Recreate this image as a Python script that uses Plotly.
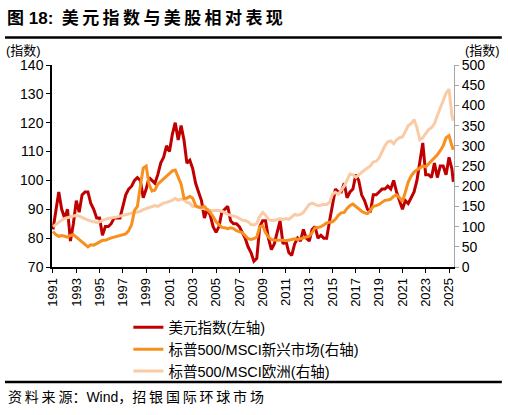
import pandas as pd
import plotly.graph_objects as go

# quarterly points (Jan/Apr/Jul/Oct) from 1991 to Apr 2025, plus the last reading in May 2025
dates = list(pd.date_range("1991-01-01", "2025-04-01", freq="QS")) + [pd.Timestamp("2025-05-15")]

# 美元指数 (left axis)
dxy = [
    83, 90, 96, 90,     87, 90, 79, 85,     93, 89, 95, 96,     96, 92, 90, 87,
    87, 81, 84, 84,     85, 87, 87, 87,     91, 95, 97, 98,     100, 101, 100, 94,
    97, 101, 100, 99,   102, 106, 108, 112, 110, 116, 120, 114, 119, 114, 106, 107,
    104, 99, 96, 93,    87, 90, 88, 84,     82, 84, 89, 90,     91, 86, 85, 85,
    84, 82, 80, 77,     75, 72, 73, 84,     86, 86, 80, 76,     78, 82, 86, 78,
    79, 75, 74, 78,     80, 79, 83, 80,     79, 83, 84, 80,     81, 80, 80, 86,
    92, 97, 96, 96,     99, 94, 96, 97,     102, 100, 95, 93,   90, 89, 95, 95,
    96, 97, 97, 98,     97, 100, 96, 93,    90, 93, 92, 94,     96, 100, 106, 113,
    102, 102, 101, 106, 101, 105, 105, 102, 108, 104, 99.5,
]

# 标普500/MSCI新兴市场 (right axis)
spx_em = [
    88, 80, 76, 78,     76, 74, 78, 80,     74, 68, 62, 54,     50, 55, 54, 58,
    62, 66, 66, 70,     72, 74, 76, 78,     80, 82, 90, 105,    140, 150, 200, 245,
    250, 205, 188, 190, 205, 212, 218, 225, 232, 238, 240, 222, 205, 170, 170, 175,
    170, 152, 148, 148, 150, 142, 135, 125, 112, 105, 98, 97,   95, 97, 95, 90,
    88, 85, 78, 70,     68, 70, 74, 100,    102, 85, 74, 68,    67, 67, 66, 66,
    65, 66, 68, 70,     68, 70, 72, 74,     76, 85, 97, 98,     100, 104, 109, 111,
    112, 118, 128, 134, 135, 145, 152, 156, 150, 142, 138, 134, 132, 140, 150, 152,
    155, 160, 165, 166, 168, 175, 178, 172, 162, 185, 210, 225, 235, 240, 245, 250,
    248, 255, 262, 270, 278, 288, 300, 320, 325, 300, 290,
]

# 标普500/MSCI欧洲 (right axis)
spx_eu = [
    100, 106, 112, 116, 120, 122, 124, 126, 128, 126, 122, 118, 116, 114, 112, 110,
    112, 116, 118, 120, 121, 122, 124, 126, 128, 130, 132, 134, 135, 136, 138, 142,
    145, 148, 150, 152, 150, 155, 158, 160, 162, 165, 170, 165, 168, 166, 160, 158,
    150, 150, 148, 145, 145, 142, 140, 140, 140, 140, 138, 135, 130, 128, 126, 124,
    120, 116, 115, 112, 105, 104, 108, 125, 135, 128, 118, 115, 115, 118, 120, 118,
    120, 118, 125, 130, 128, 130, 135, 145, 155, 158, 155, 152, 153, 155, 155, 160,
    180, 185, 180, 190, 200, 215, 230, 228, 222, 228, 235, 240, 245, 250, 260, 262,
    270, 285, 300, 310, 312, 305, 315, 320, 322, 335, 350, 355, 365, 345, 315, 320,
    330, 340, 345, 355, 375, 395, 410, 430, 440, 375, 362,
]

names = ["美元指数(左轴)", "标普500/MSCI新兴市场(右轴)", "标普500/MSCI欧洲(右轴)"]
colors = ["#C00000", "#F7901E", "#F9CBA7"]

FONT = "Arial, 'Liberation Sans', 'Noto Sans CJK SC', sans-serif"

fig = go.Figure()
fig.add_trace(go.Scatter(x=dates, y=spx_eu, name=names[2], yaxis="y2", mode="lines",
                         line=dict(color=colors[2], width=3), legendrank=3))
fig.add_trace(go.Scatter(x=dates, y=dxy, name=names[0], mode="lines",
                         line=dict(color=colors[0], width=3), legendrank=1))
fig.add_trace(go.Scatter(x=dates, y=spx_em, name=names[1], yaxis="y2", mode="lines",
                         line=dict(color=colors[1], width=3), legendrank=2))

fig.update_layout(
    width=508, height=415,
    margin=dict(l=52, r=54, t=65, b=148),
    paper_bgcolor="white", plot_bgcolor="white",
    font=dict(family=FONT, size=14, color="black"),
    showlegend=True,
    legend=dict(x=0.19, y=-0.22, xanchor="left", yanchor="top",
                font=dict(size=14.5), tracegroupgap=0, itemwidth=30,
                bgcolor="rgba(0,0,0,0)"),
    xaxis=dict(type="date", range=["1990-12-01", "2025-06-06"],
               tick0="1991-01-01", dtick="M24", tickformat="%Y", tickangle=-90,
               ticks="outside", ticklen=4, tickcolor="black",
               showline=True, linecolor="black", linewidth=1.5,
               showgrid=False, zeroline=False, tickfont=dict(size=13)),
    yaxis=dict(range=[70, 140], dtick=10, ticks="outside", ticklen=4, tickcolor="black",
               showline=True, linecolor="black", linewidth=1.5,
               showgrid=False, zeroline=False, tickfont=dict(size=14)),
    yaxis2=dict(range=[0, 500], dtick=50, overlaying="y", side="right",
                ticks="outside", ticklen=4, tickcolor="#A6A6A6",
                showline=True, linecolor="#A6A6A6", linewidth=1,
                showgrid=False, zeroline=False, tickfont=dict(size=14)),
)

# title, rules, unit labels and source
fig.add_annotation(text="<b>图 18:\u2002美\u2009元\u2009指\u2009数\u2009与\u2009美\u2009股\u2009相\u2009对\u2009表\u2009现</b>",
                   xref="paper", yref="paper", x=-0.117, y=1.233, xanchor="left", yanchor="middle",
                   showarrow=False, font=dict(size=17))
fig.add_shape(type="line", xref="paper", yref="paper", x0=-0.117, x1=1.119, y0=1.136, y1=1.136,
              line=dict(color="black", width=2.5))
fig.add_annotation(text="(指数)", xref="paper", yref="paper", x=-0.12, y=1.074,
                   xanchor="left", yanchor="middle", showarrow=False, font=dict(size=13))
fig.add_annotation(text="(指数)", xref="paper", yref="paper", x=1.12, y=1.074,
                   xanchor="right", yanchor="middle", showarrow=False, font=dict(size=13))
fig.add_shape(type="line", xref="paper", yref="paper", x0=-0.117, x1=1.119, y0=-0.569, y1=-0.569,
              line=dict(color="black", width=2.5))
fig.add_annotation(text="资\u2009料\u2009来\u2009源：Wind，招\u2009银\u2009国\u2009际\u2009环\u2009球\u2009市\u2009场",
                   xref="paper", yref="paper",
                   x=-0.115, y=-0.644, xanchor="left", yanchor="middle", showarrow=False,
                   font=dict(size=14))

# the page's default body margin would push the chart 8px down and right
fig.write_html("out.html", config={"displayModeBar": False},
               post_script="document.body.style.margin='0';")
